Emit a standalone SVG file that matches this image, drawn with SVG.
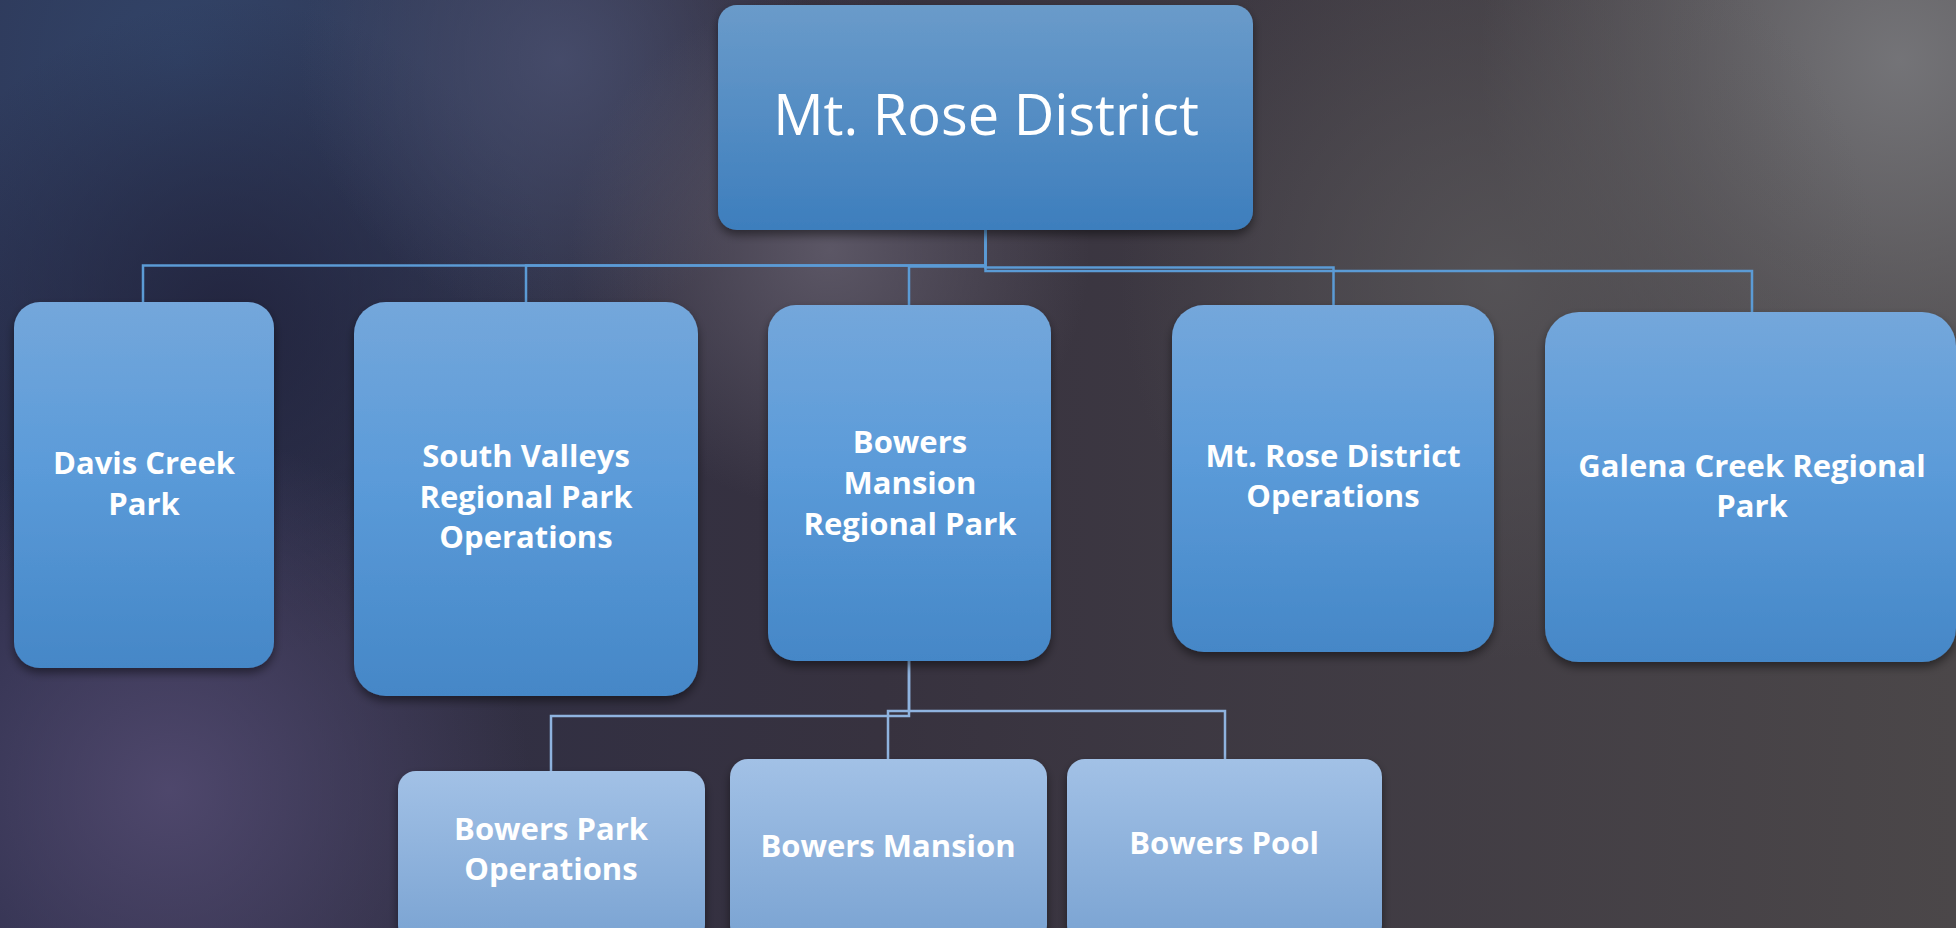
<svg xmlns="http://www.w3.org/2000/svg" width="1956" height="928" viewBox="0 0 1956 928">
<defs>
<linearGradient id="bgBase" x1="0" y1="0" x2="1" y2="0">
<stop offset="0" stop-color="#2a2c48"/>
<stop offset="0.45" stop-color="#37323f"/>
<stop offset="1" stop-color="#4b4749"/>
</linearGradient>
<radialGradient id="bgTL" cx="180" cy="60" r="560" gradientUnits="userSpaceOnUse">
<stop offset="0" stop-color="#32456a" stop-opacity="0.95"/>
<stop offset="1" stop-color="#32456a" stop-opacity="0"/>
</radialGradient>
<radialGradient id="bgDark" cx="230" cy="330" r="330" gradientUnits="userSpaceOnUse">
<stop offset="0" stop-color="#20213a" stop-opacity="0.85"/>
<stop offset="1" stop-color="#20213a" stop-opacity="0"/>
</radialGradient>
<radialGradient id="bgTR" cx="1900" cy="60" r="420" gradientUnits="userSpaceOnUse">
<stop offset="0" stop-color="#76767a" stop-opacity="0.95"/>
<stop offset="1" stop-color="#76767a" stop-opacity="0"/>
</radialGradient>
<radialGradient id="bgBL" cx="170" cy="790" r="360" gradientUnits="userSpaceOnUse">
<stop offset="0" stop-color="#524a70" stop-opacity="0.9"/>
<stop offset="1" stop-color="#524a70" stop-opacity="0"/>
</radialGradient>
<radialGradient id="bgC" cx="830" cy="250" r="260" gradientUnits="userSpaceOnUse">
<stop offset="0" stop-color="#625d6c" stop-opacity="0.85"/>
<stop offset="1" stop-color="#625d6c" stop-opacity="0"/>
</radialGradient>
<radialGradient id="bgMR" cx="1500" cy="280" r="380" gradientUnits="userSpaceOnUse">
<stop offset="0" stop-color="#59575a" stop-opacity="0.8"/>
<stop offset="1" stop-color="#59575a" stop-opacity="0"/>
</radialGradient>
<radialGradient id="bgTM" cx="560" cy="60" r="260" gradientUnits="userSpaceOnUse">
<stop offset="0" stop-color="#4a5070" stop-opacity="0.8"/>
<stop offset="1" stop-color="#4a5070" stop-opacity="0"/>
</radialGradient>
<linearGradient id="gTop" x1="0" y1="0" x2="0" y2="1">
<stop offset="0" stop-color="#6a9bca"/>
<stop offset="1" stop-color="#3d7ebd"/>
</linearGradient>
<linearGradient id="gMid" x1="0" y1="0" x2="0" y2="1">
<stop offset="0" stop-color="#74a7db"/>
<stop offset="0.45" stop-color="#5b9bd9"/>
<stop offset="1" stop-color="#4587c7"/>
</linearGradient>
<linearGradient id="gLow" x1="0" y1="0" x2="0" y2="1">
<stop offset="0" stop-color="#a2c1e6"/>
<stop offset="1" stop-color="#7aa3d2"/>
</linearGradient>
<filter id="sh" x="-10%" y="-10%" width="120%" height="125%">
<feDropShadow dx="0" dy="5" stdDeviation="5" flood-color="#000000" flood-opacity="0.45"/>
</filter>
<style>
.top{fill:url(#gTop);filter:url(#sh)}
.mid{fill:url(#gMid);filter:url(#sh)}
.low{fill:url(#gLow);filter:url(#sh)}
.t{font-family:"Open Sans","Noto Sans","Liberation Sans",sans-serif;font-weight:700;font-size:31px;fill:#ffffff;text-anchor:middle}
.title{font-family:"Open Sans","Noto Sans","Liberation Sans",sans-serif;font-weight:400;font-size:56px;fill:#ffffff;text-anchor:middle}
.c1{fill:none;stroke:#5b9bd5;stroke-width:2.5}
.c2{fill:none;stroke:#8fb3df;stroke-width:2.5}
</style>
</defs>
<rect width="1956" height="928" fill="url(#bgBase)"/>
<rect width="1956" height="928" fill="url(#bgTL)"/>
<rect width="1956" height="928" fill="url(#bgDark)"/>
<rect width="1956" height="928" fill="url(#bgTM)"/>
<rect width="1956" height="928" fill="url(#bgTR)"/>
<rect width="1956" height="928" fill="url(#bgMR)"/>
<rect width="1956" height="928" fill="url(#bgBL)"/>
<rect width="1956" height="928" fill="url(#bgC)"/>

<g id="connectors">
<path class="c1" d="M985.5,230 V265.5 H143 V302"/>
<path class="c1" d="M985.5,265.5 H526 V302"/>
<path class="c1" d="M985.5,266.5 H909 V305"/>
<path class="c1" d="M985.5,230 V267.5 H1333.5 V305"/>
<path class="c1" d="M985.5,230 V271 H1752 V312"/>
<path class="c2" d="M909,661 V716 H551 V771"/>
<path class="c2" d="M909,661 V711 H888 V759"/>
<path class="c2" d="M909,711 H1225 V759"/>
</g>

<g id="node-mt-rose-district">
<rect class="top" x="718" y="5" width="535" height="225" rx="19"/>
<text class="title" x="986" y="135">Mt. Rose District</text>
</g>
<g id="node-davis-creek-park">
<rect class="mid" x="14" y="302" width="260" height="366" rx="26"/>
<text class="t" x="144" y="474">Davis Creek</text>
<text class="t" x="144" y="515">Park</text>
</g>
<g id="node-south-valleys">
<rect class="mid" x="354" y="302" width="344" height="394" rx="32"/>
<text class="t" x="526" y="467">South Valleys</text>
<text class="t" x="526" y="508">Regional Park</text>
<text class="t" x="526" y="548">Operations</text>
</g>
<g id="node-bowers-mansion-regional-park">
<rect class="mid" x="768" y="305" width="283" height="356" rx="28"/>
<text class="t" x="910" y="453">Bowers</text>
<text class="t" x="910" y="494">Mansion</text>
<text class="t" x="910" y="535">Regional Park</text>
</g>
<g id="node-mt-rose-district-operations">
<rect class="mid" x="1172" y="305" width="322" height="347" rx="32"/>
<text class="t" x="1333" y="467">Mt. Rose District</text>
<text class="t" x="1333" y="507">Operations</text>
</g>
<g id="node-galena-creek">
<rect class="mid" x="1545" y="312" width="411" height="350" rx="34"/>
<text class="t" x="1752" y="477">Galena Creek Regional</text>
<text class="t" x="1752" y="517">Park</text>
</g>
<g id="node-bowers-park-operations">
<rect class="low" x="398" y="771" width="307" height="172" rx="18"/>
<text class="t" x="551" y="840">Bowers Park</text>
<text class="t" x="551" y="880">Operations</text>
</g>
<g id="node-bowers-mansion">
<rect class="low" x="730" y="759" width="317" height="184" rx="18"/>
<text class="t" x="888" y="857">Bowers Mansion</text>
</g>
<g id="node-bowers-pool">
<rect class="low" x="1067" y="759" width="315" height="184" rx="18"/>
<text class="t" x="1224" y="854">Bowers Pool</text>
</g>
</svg>
